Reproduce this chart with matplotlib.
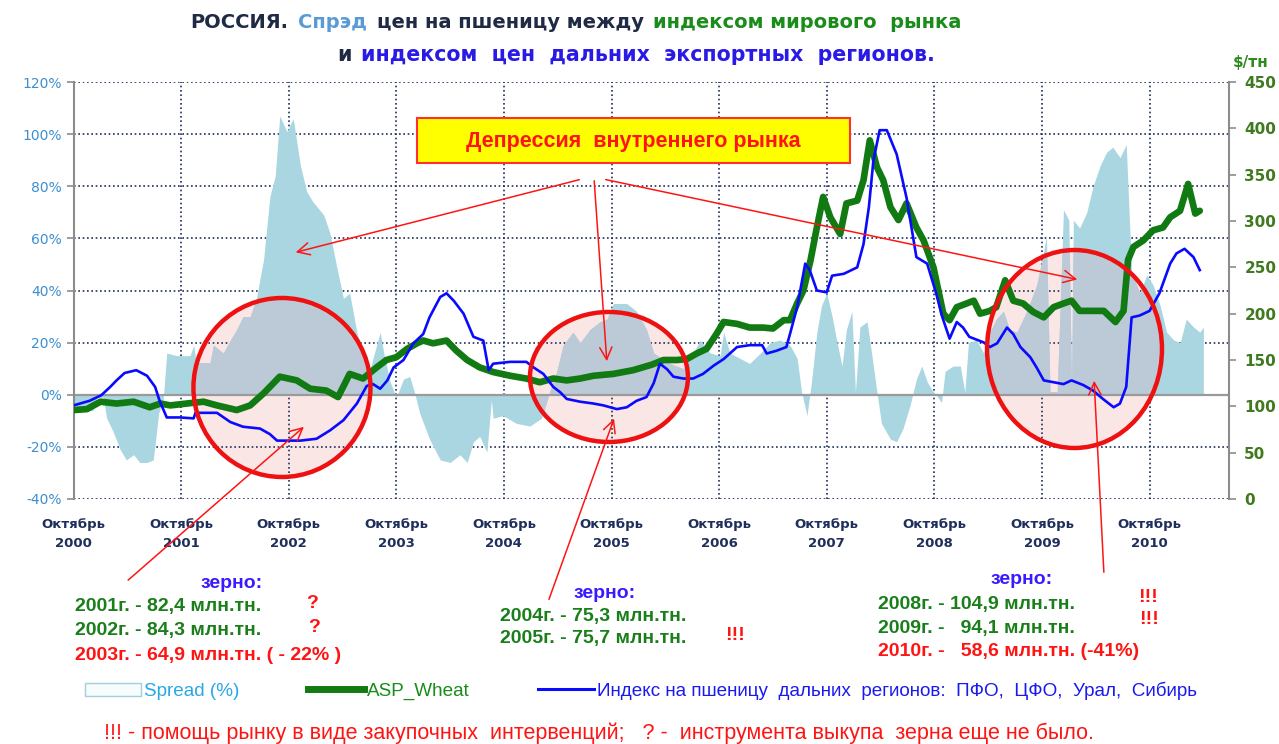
"""Россия: спрэд цен на пшеницу между мировым индексом и индексом дальних регионов."""

import matplotlib
matplotlib.use("Agg")
import matplotlib.pyplot as plt
from matplotlib.lines import Line2D
from matplotlib.patches import Ellipse, FancyArrowPatch, Patch, Rectangle
from matplotlib.offsetbox import TextArea, HPacker, AnnotationBbox

W, H = 1279, 744

# месяцы от октября 2000 г.
blue_months = [0, 1.8, 3.1, 4.1, 4.8, 5.7, 7.0, 8.2, 9.1, 9.6, 10.4, 11.9, 13.4, 13.6, 16.0,
               17.5, 18.9, 20.8, 21.9, 22.7, 25.3, 27.1, 28.6, 30.1, 31.6, 32.7, 33.4, 34.2,
               35.0, 35.7, 36.8, 37.9, 39.0, 39.7, 40.9, 41.6, 42.4, 43.5, 44.6, 45.7, 46.3,
               46.8, 48.7, 50.5, 51.3, 52.4, 53.5, 54.3, 55.0, 56.5, 58.0, 59.1, 60.6, 61.7,
               62.8, 63.9, 64.7, 65.4, 66.2, 66.9, 68.0, 69.1, 70.2, 71.4, 72.5, 74.0, 75.4,
               76.8, 77.3, 78.4, 79.5, 79.9, 80.7, 81.6, 82.1, 82.9, 84.0, 84.6, 85.9, 87.4,
               88.1, 88.7, 89.2, 89.9, 90.7, 91.8, 92.9, 94.0, 95.2, 96.2, 96.9, 97.7, 98.5,
               99.2, 99.9, 101.5, 102.2, 103.0, 104.1, 104.8, 105.6, 106.7, 107.4, 108.2,
               109.3, 110.4, 111.3, 112.6, 113.7, 114.8, 116.0, 116.7, 117.4, 118.0, 118.9,
               120.0, 121.1, 122.3, 123.0, 123.9, 124.9, 125.6]
blue_index = [101, 106, 112, 121, 128, 136, 139, 133, 121, 106, 88, 88, 87, 93, 93,
              83, 78, 76, 70, 63, 63, 65, 74, 85, 103, 122, 124, 119,
              128, 142, 150, 168, 178, 196, 218, 222, 214, 200, 175, 171, 139,
              146, 148, 148, 142, 135, 121, 115, 108, 105, 103, 101, 97, 99,
              106, 110, 125, 146, 140, 132, 130, 130, 135, 144, 151, 164, 166,
              166, 157, 160, 164, 178, 207, 254, 247, 225, 223, 241, 243, 250,
              275, 315, 365, 398, 398, 372, 325, 261, 254, 222, 196, 173, 191,
              185, 175, 169, 164, 168, 185, 178, 164, 153, 142, 128,
              126, 124, 128, 123, 117, 108, 99, 103, 121, 196, 198,
              203, 222, 254, 265, 270, 261, 247]

green_months = [0, 1.5, 3.0, 4.8, 6.7, 8.5, 9.7, 10.8, 12.6, 14.5, 16.0, 18.2, 19.7, 21.2,
                23.0, 24.9, 26.4, 28.2, 29.5, 30.8, 32.3, 33.8, 34.9, 36.0, 37.2, 38.3, 39.0,
                40.1, 41.6, 42.7, 43.9, 45.3, 46.8, 48.7, 50.5, 52.0, 53.5, 55.0, 56.5, 58.0,
                60.2, 62.4, 64.5, 65.8, 67.3, 68.4, 69.5, 70.6, 71.7, 72.5, 74.0, 75.4, 76.9,
                78.0, 79.2, 79.9, 80.7, 81.4, 82.2, 82.9, 83.6, 84.4, 85.5, 86.2, 87.4, 88.1,
                88.8, 89.6, 90.3, 91.1, 92.0, 92.9, 94.0, 94.8, 95.9, 97.0, 97.7, 98.5, 99.6,
                100.4, 101.1, 102.2, 102.9, 103.9, 104.8, 105.9, 107.0, 108.2, 109.3, 110.4,
                111.3, 112.2, 113.7, 114.9, 116.2, 117.1, 117.6, 118.2, 119.3, 120.4, 121.5,
                122.3, 123.4, 124.3, 125.1, 125.6]
asp_wheat = [96, 97, 105, 103, 105, 99, 103, 101, 103, 105, 101, 96, 101, 114,
             132, 128, 119, 117, 110, 135, 130, 142, 150, 153, 162, 168, 171,
             168, 171, 160, 150, 142, 137, 133, 130, 126, 130, 128, 130, 133,
             135, 139, 145, 150, 150, 151, 157, 162, 178, 191, 189, 185, 185,
             184, 193, 193, 211, 225, 258, 293, 326, 304, 286, 319, 322, 344,
             387, 358, 344, 315, 301, 319, 293, 279, 250, 200, 193, 207, 211,
             214, 200, 203, 207, 236, 214, 211, 202, 196, 207, 211,
             214, 203, 203, 203, 191, 203, 258, 272, 279, 290, 293,
             304, 311, 340, 308, 311]

spread_months = [0, 0.7, 1.1, 2.2, 2.6, 3.3, 3.7, 4.4, 5.2, 5.9, 6.7, 7.4, 8.2, 8.9, 9.5,
                 10.0, 10.4, 11.5, 13.0, 13.4, 13.7, 15.2, 15.6, 16.7, 17.5, 18.2, 18.9,
                 19.7, 20.4, 21.2, 21.9, 22.5, 23.0, 23.8, 24.5, 25.3, 26.0, 26.7, 27.9,
                 28.6, 29.3, 30.1, 30.8, 31.6, 32.3, 33.1, 33.4, 34.2, 34.6, 35.3, 36.0,
                 36.8, 37.5, 38.1, 38.6, 39.7, 40.9, 42.0, 43.1, 43.9, 44.6, 45.3, 46.1,
                 46.6, 46.8, 47.9, 49.4, 50.9, 52.2, 53.1, 53.9, 54.6, 55.7, 56.5, 57.6,
                 58.7, 59.5, 60.2, 61.7, 62.8, 63.9, 64.7, 66.5, 68.0, 69.1, 69.9, 71.0,
                 72.1, 72.5, 73.2, 74.3, 75.4, 76.6, 77.7, 78.8, 79.9, 80.7, 81.2, 81.8,
                 82.3, 82.9, 83.4, 84.0, 84.6, 85.1, 85.7, 86.2, 86.8, 87.2, 87.7, 88.5,
                 89.0, 89.6, 90.1, 91.1, 91.8, 92.5, 93.3, 94.0, 94.6, 95.2, 95.7, 96.2,
                 96.8, 97.2, 98.1, 98.9, 99.4, 99.8, 100.7, 101.5, 102.2, 102.9, 103.7,
                 104.4, 105.2, 106.3, 107.4, 108.1, 108.5, 108.9, 109.7, 110.4, 111.0,
                 111.3, 111.5, 112.2, 113.0, 113.7, 114.5, 115.2, 115.9, 116.7, 117.4,
                 118.0, 118.9, 119.7, 120.4, 121.2, 121.9, 122.7, 123.4, 124.1, 124.9,
                 125.6, 126.0]
spread_pct = [-4, -5, -6, -6, -1, -1, -9, -14, -21, -25, -23, -26, -26, -25, -7,
              -2, 16, 15, 15, 19, 12, 12, 19, 16, 21, 25, 30,
              30, 37, 52, 76, 84, 107, 101, 106, 88, 78, 74, 69,
              62, 50, 37, 39, 24, 16, 10, 14, 24, 16, 5, -1,
              6, 7, 0, -7, -17, -25, -26, -23, -26, -18, -16, -22,
              -2, -9, -8, -11, -12, -9, 1, 9, 19, 24, 20, 25,
              28, 29, 35, 35, 32, 25, 16, 12, 10, 16, 21, 16,
              15, 24, 16, 14, 12, 16, 20, 21, 19, 14, 1, -8,
              5, 24, 34, 39, 30, 21, 11, 25, 32, 1, 26, 28,
              16, 1, -11, -17, -18, -13, -4, 6, 11, 5, 2, 0,
              -3, 9, 11, 11, 1, 20, 21, 16, 24, 29, 32,
              25, 24, 32, 42, 53, 61, 1, 1, 71, 67,
              1, 67, 64, 70, 80, 88, 93, 95, 91, 96,
              47, 39, 46, 42, 34, 24, 21, 20, 29, 26,
              24, 26]

tick_months = [0, 12, 24, 36, 48, 60, 72, 84, 96, 108, 120]
tick_years = [2000, 2001, 2002, 2003, 2004, 2005, 2006, 2007, 2008, 2009, 2010]
pct_ticks = [-40, -20, 0, 20, 40, 60, 80, 100, 120]
usd_ticks = [0, 50, 100, 150, 200, 250, 300, 350, 400, 450]

NAVY = "#1f2f5c"
GREEN = "#1a7f1a"
RED = "#ff1414"
SPREAD = "#a9d6e0"
TEXT_FONT = ["Liberation Sans", "DejaVu Sans"]


def fig_xy(x, y):
    return x / W, 1 - y / H


def colored_line(fig, x, y, parts, size, sep=7):
    boxes = [TextArea(s, textprops=dict(color=c, fontsize=size, fontweight="bold"))
             for s, c in parts]
    pack = HPacker(children=boxes, align="baseline", pad=0, sep=sep)
    fig.add_artist(AnnotationBbox(pack, fig_xy(x, y), xycoords="figure fraction",
                                  frameon=False, box_alignment=(0.5, 0.5)))


def arrow(fig, start, end):
    fig.add_artist(FancyArrowPatch(fig_xy(*start), fig_xy(*end), transform=fig.transFigure,
                                   arrowstyle="->", mutation_scale=22, color=RED, lw=1.1,
                                   zorder=10))


def main():
    fig = plt.figure(figsize=(W / 100, H / 100), dpi=100)
    ax = fig.add_axes([73.5 / W, 1 - 499 / H, (1229 - 73.5) / W, (499 - 82) / H])
    ax2 = ax.twinx()

    ax.set_xlim(0, 128.86)
    ax.set_ylim(-40, 120)
    ax2.set_ylim(0, 450)

    ax.set_axisbelow(True)
    ax.grid(True, color=NAVY, linestyle=(0, (1, 1.6)), lw=1.2, zorder=0.5)

    # круги: заливка под спрэдом, контур поверх линий
    circles = [(0.1804, 0.2674, 0.1532, 0.4293),
               (0.4634, 0.2926, 0.1367, 0.3118),
               (0.8663, 0.3597, 0.1514, 0.4748)]
    for cx, cy, w, h in circles:
        ax.add_patch(Ellipse((cx, cy), w, h, transform=ax.transAxes, facecolor="#fbe6e6",
                             edgecolor="none", zorder=0.3))

    ax.fill_between(spread_months, spread_pct, 0, color=SPREAD, lw=0, zorder=1)
    for cx, cy, w, h in circles:
        clip = Ellipse((cx, cy), w, h, transform=ax.transAxes, facecolor="none",
                       edgecolor="none")
        ax.add_patch(clip)
        shaded = ax.fill_between(spread_months, spread_pct, 0, color="#bccad8", lw=0,
                                 zorder=1.1)
        shaded.set_clip_path(clip)
    ax.axhline(0, color="#9a9a9a", lw=1.6, zorder=1.5)

    ax2.plot(green_months, asp_wheat, color="#127a12", lw=4.8, solid_capstyle="round",
             zorder=3)
    ax2.plot(blue_months, blue_index, color="#0a0aff", lw=1.9, zorder=4)
    for cx, cy, w, h in circles:
        ax2.add_patch(Ellipse((cx, cy), w, h, transform=ax2.transAxes, facecolor="none",
                              edgecolor="#ee1111", lw=3.2, zorder=5))

    for a in (ax, ax2):
        a.spines["top"].set_visible(False)
        a.spines["bottom"].set_visible(False)
    ax.spines["right"].set_visible(False)
    ax2.spines["left"].set_visible(False)
    ax.spines["left"].set_color("#8c8c8c")
    ax.spines["left"].set_linewidth(1.5)
    ax2.spines["right"].set_color("#8c8c8c")
    ax2.spines["right"].set_linewidth(1.5)

    ax.set_yticks(pct_ticks)
    ax.set_yticklabels([f"{v}%" for v in pct_ticks])
    ax.tick_params(axis="y", colors="#8c8c8c", labelcolor="#3d8fd0", labelsize=10,
                   length=5, width=1.2)
    ax.set_xticks(tick_months)
    ax.set_xticklabels([f"Октябрь\n{y}" for y in tick_years], fontweight="bold",
                       color=NAVY, fontsize=9.5, linespacing=1.6)
    ax.tick_params(axis="x", length=0, pad=14)
    ax2.set_yticks(usd_ticks)
    ax2.tick_params(axis="y", colors="#8c8c8c", labelcolor="#3f7a1f", labelsize=11,
                    length=5, width=1.2, pad=6)
    for lab in ax2.get_yticklabels():
        lab.set_fontweight("bold")

    fig.text(*fig_xy(1251, 62), "$/тн", color="#2f8a1f", fontsize=11, fontweight="bold",
             ha="center", va="center")

    colored_line(fig, 576, 22, [("РОССИЯ.", "#1f2a44"), ("Спрэд", "#5b9bd5"),
                                ("цен на пшеницу между", "#1f2a44"),
                                ("индексом мирового  рынка", "#198c19")], 14)
    colored_line(fig, 636, 55, [("и", "#1f2a44"),
                                ("индексом  цен  дальних  экспортных  регионов.", "#2a1ae6")],
                 14.8)

    # плашка "Депрессия"
    x0, y0 = fig_xy(417, 163)
    x1, y1 = fig_xy(850, 118)
    fig.add_artist(Rectangle((x0, y0), x1 - x0, y1 - y0, transform=fig.transFigure,
                             facecolor="#ffff00", edgecolor="#ff3030", lw=1.5, zorder=6))
    fig.text(*fig_xy(633, 141), "Депрессия  внутреннего рынка", color=RED, fontsize=15.5,
             fontweight="bold", ha="center", va="center", zorder=7, family=TEXT_FONT)

    arrow(fig, (582, 179), (293, 253))
    arrow(fig, (594, 178), (607, 364))
    arrow(fig, (603, 179), (1080, 280))
    arrow(fig, (126, 582), (306, 425))
    arrow(fig, (548, 602), (615, 416))
    arrow(fig, (1104, 575), (1094, 378))

    kw = dict(fontsize=14, fontweight="bold", family=TEXT_FONT, va="center")
    notes = [
        (232, 583, "зерно:", "#3a1aff", "center"),
        (75, 606, "2001г. - 82,4 млн.тн.", GREEN, "left"),
        (312, 603, "?", RED, "center"),
        (75, 631, "2002г. - 84,3 млн.тн.", GREEN, "left"),
        (314, 627, "?", RED, "center"),
        (75, 656, "2003г. - 64,9 млн.тн. ( - 22% )", RED, "left"),
        (605, 593, "зерно:", "#3a1aff", "center"),
        (500, 617, "2004г. - 75,3 млн.тн.", GREEN, "left"),
        (500, 639, "2005г. - 75,7 млн.тн.", GREEN, "left"),
        (735, 636, "!!!", RED, "center"),
        (1022, 580, "зерно:", "#3a1aff", "center"),
        (878, 604, "2008г. - 104,9 млн.тн.", GREEN, "left"),
        (1148, 597, "!!!", RED, "center"),
        (878, 628, "2009г. -   94,1 млн.тн.", GREEN, "left"),
        (1149, 620, "!!!", RED, "center"),
        (878, 651, "2010г. -   58,6 млн.тн. (-41%)", RED, "left"),
    ]
    for x, y, s, c, ha in notes:
        fig.text(*fig_xy(x, y), s, color=c, ha=ha, **kw)

    handles = [Patch(facecolor="#f6fbfc", edgecolor="#9fd0dc"),
               Line2D([], [], color="#127a12", lw=5),
               Line2D([], [], color="#0a0aff", lw=2.2)]
    labels = ["Spread (%)", "ASP_Wheat",
              "Индекс на пшеницу  дальних  регионов:  ПФО,  ЦФО,  Урал,  Сибирь"]
    fig.legend(handles, labels, loc="center", bbox_to_anchor=fig_xy(641, 691), ncol=3,
               frameon=False, labelcolor=["#2aa8e6", "#198c19", "#1a1af0"],
               prop=dict(family=TEXT_FONT, size=13.6), handlelength=3.0,
               handletextpad=0.15, columnspacing=3.6)

    fig.text(*fig_xy(599, 733),
             "!!! - помощь рынку в виде закупочных  интервенций;   ? -  инструмента выкупа  зерна еще не было.",
             color=RED, fontsize=15.5, ha="center", va="center", family=TEXT_FONT)

    fig.savefig("out.png", dpi=100)


if __name__ == "__main__":
    main()
